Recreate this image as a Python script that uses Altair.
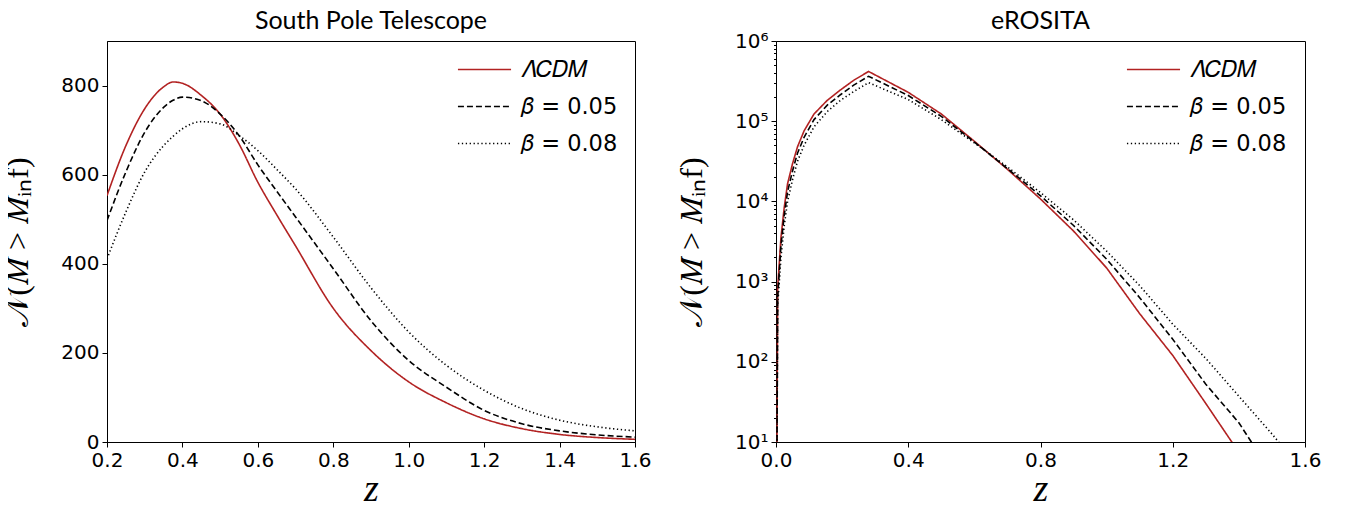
import altair as alt
import pandas as pd

# ---------------- data: South Pole Telescope ----------------
spt_z = [0.2, 0.25, 0.3, 0.35, 0.375, 0.4, 0.45, 0.5, 0.55, 0.6, 0.65, 0.7,
         0.8, 0.9, 1.0, 1.1, 1.2, 1.3, 1.4, 1.5, 1.6]
spt_lcdm = [553, 665, 748, 797, 808, 805, 778, 736, 669, 583, 510, 440,
            300, 205, 135, 88, 52, 30, 17, 10, 6]
spt_b005 = [497, 606, 695, 751, 767, 774, 766, 736, 688, 622, 563, 505,
            389, 272, 183, 123, 71, 41, 25, 16, 11]
spt_b008 = [411, 516, 606, 665, 686, 703, 719, 714, 688, 654, 612, 568,
            460, 346, 247, 172, 116, 75, 49, 34, 25]

# ---------------- data: eROSITA ----------------
ero_z = [0.002, 0.005, 0.015, 0.025, 0.035, 0.05, 0.065, 0.085, 0.115, 0.155,
         0.195, 0.235, 0.28, 0.4, 0.5, 0.6, 0.7, 0.8, 0.9, 1.0, 1.1, 1.2,
         1.3, 1.4, 1.5, 1.6]
ero_lcdm = [1, 832, 3548, 8511, 16596, 29512, 47863, 75858, 123027, 181970,
            245471, 323594, 416869, 229087, 123027, 56234, 25119, 10715, 4266,
            1479, 398, 120, 30.2, 7.4]
ero_b005 = [1, 631, 2818, 6761, 13183, 23988, 39811, 63096, 104713, 158489,
            213796, 281838, 363078, 208930, 114815, 54954, 25704, 11749, 5012,
            1905, 631, 191, 52.5, 17.4, 4.0]
ero_b008 = [1, 501, 1995, 5012, 10000, 18621, 31623, 50119, 85114, 131826,
            181970, 234423, 301995, 186209, 104713, 53703, 26915, 12882, 5888,
            2399, 891, 295, 110, 37.2, 12.6, 4.0]

series_names = ["𝛬𝐶𝐷𝑀", "𝛽 = 0.05", "𝛽 = 0.08"]
series_colors = ["#b22222", "#000000", "#000000"]
series_dashes = [[1, 0], [6, 3], [1.3, 2.6]]

spt_x_ticks = [0.2, 0.4, 0.6, 0.8, 1.0, 1.2, 1.4, 1.6]
spt_y_ticks = [0, 200, 400, 600, 800]
ero_x_ticks = [0.0, 0.4, 0.8, 1.2, 1.6]
ero_major = [10, 100, 1000, 10000, 100000, 1000000]


def long_table(zs, series_list):
    rows = []
    for name, vals in zip(series_names, series_list):
        for z, v in zip(zs, vals):
            rows.append({"z": z, "N": v, "model": name})
    return pd.DataFrame(rows)


spt_df = long_table(spt_z, [spt_lcdm, spt_b005, spt_b008])
ero_df = long_table(ero_z, [ero_lcdm, ero_b005, ero_b008])

ero_y_ticks = []
for d in range(1, 6):
    for k in range(1, 10):
        ero_y_ticks.append(k * 10 ** d)
ero_y_ticks.append(1000000)


def legend(x, y):
    return alt.Legend(
        orient="none", legendX=x, legendY=y, title=None,
        symbolType="M-2,0H2", symbolSize=705, symbolStrokeWidth=1.6,
        labelFontSize=22.5, labelFont="DejaVu Sans", labelColor="black",
        rowPadding=11, labelOffset=22, padding=0,
    )


color_scale = alt.Scale(domain=series_names, range=series_colors)
dash_scale = alt.Scale(domain=series_names, range=series_dashes)

TITLE_FONT = "Lato"
YT = "𝒩(𝑀 > 𝑀ᵢₙf)"

left = alt.Chart(spt_df).mark_line(strokeWidth=1.6, interpolate="monotone", clip=True).encode(
    x=alt.X("z:Q", scale=alt.Scale(domain=[0.2, 1.6], nice=False, zero=False),
            axis=alt.Axis(values=spt_x_ticks, format=".1f", title="z")),
    y=alt.Y("N:Q", scale=alt.Scale(domain=[0, 900], nice=False),
            axis=alt.Axis(values=spt_y_ticks, title=YT)),
    color=alt.Color("model:N", scale=color_scale, sort=series_names, legend=legend(363, 14)),
    strokeDash=alt.StrokeDash("model:N", scale=dash_scale, sort=series_names, legend=legend(363, 14)),
).properties(
    width=528, height=401,
    title=alt.TitleParams("South Pole Telescope", font=TITLE_FONT, fontSize=25,
                          fontWeight="normal", color="black", offset=7),
)

label_expr = ("indexof([10,100,1000,10000,100000,1000000], datum.value) >= 0 ? "
              "'10' + ['','¹','²','³','⁴','⁵','⁶'][round(log(datum.value)/LN10)] : ''")
minor_test = "indexof([10,100,1000,10000,100000,1000000], datum.value) < 0"

right = alt.Chart(ero_df).mark_line(strokeWidth=1.6, interpolate="linear", clip=True).encode(
    x=alt.X("z:Q", scale=alt.Scale(domain=[0, 1.6], nice=False),
            axis=alt.Axis(values=ero_x_ticks, format=".1f", title="z")),
    y=alt.Y("N:Q", scale=alt.Scale(type="log", domain=[10, 1000000], nice=False),
            axis=alt.Axis(values=ero_y_ticks, labelExpr=label_expr, labelOverlap=False,
                          tickSize={"condition": {"test": minor_test, "value": 2.5}, "value": 5},
                          title=YT)),
    color=alt.Color("model:N", scale=color_scale, sort=series_names, legend=legend(363, 14)),
    strokeDash=alt.StrokeDash("model:N", scale=dash_scale, sort=series_names, legend=legend(363, 14)),
).properties(
    width=529, height=401,
    title=alt.TitleParams("eROSITA", font=TITLE_FONT, fontSize=25,
                          fontWeight="normal", color="black", offset=-3),
)

chart = alt.hconcat(left, right, spacing=23).resolve_scale(
    color="independent", strokeDash="independent", y="independent", x="independent"
).resolve_legend(color="independent", strokeDash="independent").properties(
    padding={"left": -7, "top": 0, "right": 5, "bottom": 5}
).configure(
    background="white"
).configure_view(
    stroke="black", strokeWidth=1
).configure_axis(
    grid=False, domainColor="black", tickColor="black", labelColor="black",
    labelFont="DejaVu Sans", labelFontSize=20, tickSize=5, labelPadding=3,
    titleColor="black", titleFontWeight="normal", labelFlush=False,
).configure_axisX(
    titleFont="Liberation Serif", titleFontStyle="italic", titleFontSize=38, titlePadding=0,
).configure_axisY(
    titleFont="Liberation Serif", titleFontSize=32, titlePadding=26,
)

chart.save("out.html", embed_options={"renderer": "svg", "actions": False})
